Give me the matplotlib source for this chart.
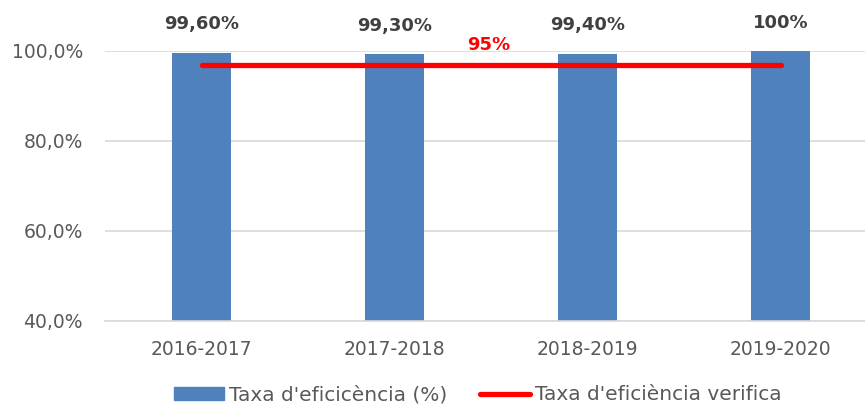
import matplotlib
matplotlib.use("Agg")
import matplotlib.pyplot as plt
from matplotlib.patches import Patch
from matplotlib.lines import Line2D

categories = ["2016-2017", "2017-2018", "2018-2019", "2019-2020"]
efficiency = [99.6, 99.3, 99.4, 100.0]
bar_labels = ["99,60%", "99,30%", "99,40%", "100%"]
target = [97.0, 97.0, 97.0, 97.0]
target_label = "95%"
yticks = [40, 60, 80, 100]
ytick_labels = ["40,0%", "60,0%", "80,0%", "100,0%"]
legend_labels = ["Taxa d'eficicència (%)", "Taxa d'eficiència verifica"]

plt.rcParams['font.family'] = ['DejaVu Sans']
W, H = 865, 407
fig = plt.figure(figsize=(W/100, H/100), dpi=100)
ax = fig.add_axes([105/W, (H-321)/H, 772/W, 270/H])

blue = "#4f81bd"
x = list(range(len(categories)))
ax.bar(x, efficiency, width=0.31, color=blue, zorder=2)
ax.plot(x, target, color="#ff0000", lw=3.8, solid_capstyle="round", zorder=3)

for xi, v, lab in zip(x, efficiency, bar_labels):
    ax.annotate(lab, (xi, v), xytext=(0, 14), textcoords="offset points",
                ha="center", va="bottom", fontsize=13, fontweight="bold", color="#404040")
ax.text(1.49, 101.4, target_label, ha="center", va="center", fontsize=13,
        fontweight="bold", color="#ff0000")

ax.set_xlim(-0.5, 3.5)
ax.set_ylim(40, 100)
ax.set_yticks(yticks)
ax.set_yticklabels(ytick_labels)
ax.set_xticks(x)
ax.set_xticklabels(categories)
ax.tick_params(axis="y", length=0, pad=16, labelsize=13.5, labelcolor="#595959")
ax.tick_params(axis="x", length=0, pad=14, labelsize=13.5, labelcolor="#595959")
ax.grid(axis="y", color="#d9d9d9", lw=1.2, zorder=0)
for s in ["top", "right", "left"]:
    ax.spines[s].set_visible(False)
ax.spines["bottom"].set_color("#d9d9d9")
ax.spines["bottom"].set_linewidth(1.2)

handles = [Patch(facecolor=blue, edgecolor=blue),
           Line2D([0], [0], color="#ff0000", lw=3.8, solid_capstyle="round")]
fig.legend(handles, legend_labels, loc="center", bbox_to_anchor=(478/W, 1-395/H),
           ncol=2, frameon=False, fontsize=14.5, handlelength=2.5, handleheight=0.65,
           handletextpad=0.25, columnspacing=1.6, labelcolor="#595959")

fig.savefig("out.png", dpi=100)
